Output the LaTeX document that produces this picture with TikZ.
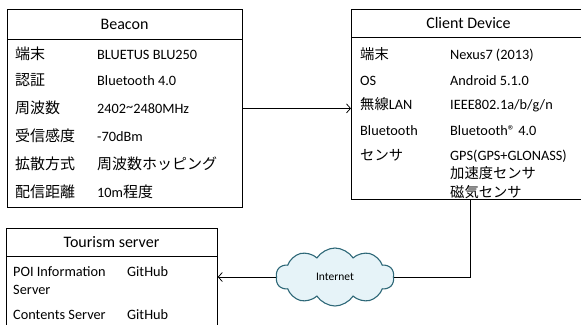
\documentclass[tikz,border=0pt]{standalone}
\usepackage{fontspec}
\setmainfont{Carlito}
\newfontfamily\jp{Noto Sans CJK JP}
\usetikzlibrary{arrows.meta,shapes.symbols}
\definecolor{cloudfill}{HTML}{E6F3F8}
\definecolor{cloudline}{HTML}{2E6878}
\newcommand{\jpb}{\jp\fontsize{15}{18}\selectfont}
\tikzset{
  box/.style={draw, line width=0.8pt, rectangle, inner sep=0pt, anchor=north west},
  rule/.style={line width=0.8pt},
  lbl/.style={anchor=west, inner sep=0pt, text height=11pt, text depth=1pt,
              font=\fontsize{14.3}{17}\selectfont},
  hdr/.style={inner sep=0pt, font=\fontsize{16}{19}\selectfont},
  link/.style={line width=0.75pt},
  arrowlink/.style={link, -{Straight Barb[length=4pt,width=9pt,line width=0.75pt]}},
  net/.style={cloud, cloud puffs=10, cloud puff arc=115, cloud ignores aspect,
              draw=cloudline, fill=cloudfill, line width=1.1pt,
              minimum width=118pt, minimum height=58pt, inner sep=0pt,
              font=\fontsize{11.5}{14}\selectfont},
}
\begin{document}
\begin{tikzpicture}[x=1pt,y=-1pt]
\useasboundingbox (0,0) rectangle (581,324);

% ---- Beacon ----
\node[box, minimum width=235pt, minimum height=198pt] (beacon) at (7,9) {};
\draw[rule] (7,39) -- (242,39);
\node[hdr] (beaconhdr) at (124.5,24) {Beacon};
\node[lbl] (b1k) at (15,54)  {\jpb 端末};
\node[lbl] (b1v) at (97,54)  {BLUETUS BLU250};
\node[lbl] (b2k) at (15,80)  {\jpb 認証};
\node[lbl] (b2v) at (97,80)  {Bluetooth 4.0};
\node[lbl] (b3k) at (15,108) {\jpb 周波数};
\node[lbl] (b3v) at (97,108) {2402\raisebox{0.25ex}{\char`\~}2480MHz};
\node[lbl] (b4k) at (15,136) {\jpb 受信感度};
\node[lbl] (b4v) at (97,136) {-70dBm};
\node[lbl] (b5k) at (15,164) {\jpb 拡散方式};
\node[lbl] (b5v) at (97,164) {\jpb 周波数ホッピング};
\node[lbl] (b6k) at (15,192) {\jpb 配信距離};
\node[lbl] (b6v) at (97,192) {10m{\jpb 程度}};

% ---- Client Device ----
\node[box, minimum width=235pt, minimum height=190pt] (client) at (351,9) {};
\draw[rule] (351,37) -- (586,37);
\node[hdr] (clienthdr) at (468.5,23) {Client Device};
\node[lbl] (c1k) at (360,54)  {\jp 端末};
\node[lbl] (c1v) at (450,54)  {Nexus7 (2013)};
\node[lbl] (c2k) at (360,80)  {OS};
\node[lbl] (c2v) at (450,80)  {Android 5.1.0};
\node[lbl] (c3k) at (360,104) {{\jp 無線}LAN};
\node[lbl] (c3v) at (450,104) {IEEE802.1a/b/g/n};
\node[lbl] (c4k) at (360,130) {Bluetooth};
\node[lbl] (c4v) at (450,130) {Bluetooth® 4.0};
\node[lbl] (c5k) at (360,155) {\jp センサ};
\node[lbl] (c5v) at (450,155) {GPS(GPS+GLONASS)};
\node[lbl] (c6v) at (450,173.5) {\jp 加速度センサ};
\node[lbl] (c7v) at (450,192) {\jp 磁気センサ};

% ---- Tourism server ----
\node[box, minimum width=211pt, minimum height=120pt] (tourism) at (6,228) {};
\draw[rule] (6,256) -- (217,256);
\node[hdr] (tourismhdr) at (111.5,242) {Tourism server};
\node[lbl] (t1k) at (13,271) {POI Information};
\node[lbl] (t1k2) at (13,289) {Server};
\node[lbl] (t1v) at (127,271) {GitHub};
\node[lbl] (t2k) at (13,314) {Contents Server};
\node[lbl] (t2v) at (127,314) {GitHub};

% ---- Internet ----
\node[net] (inet) at (335,277) {Internet};

% ---- connectors ----
\coordinate (drop) at (470,199);
\draw[arrowlink] (beacon.east) -- (beacon.east -| client.west);
\draw[link] (drop) |- (inet.east);
\draw[arrowlink] (inet.west) -- (inet.west -| tourism.east);
\end{tikzpicture}
\end{document}
